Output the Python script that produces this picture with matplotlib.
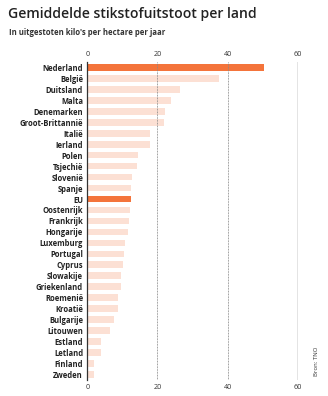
import matplotlib
matplotlib.use("Agg")
import matplotlib.pyplot as plt

countries = ["Nederland", "België", "Duitsland", "Malta", "Denemarken", "Groot-Brittannië",
             "Italië", "Ierland", "Polen", "Tsjechië", "Slovenië", "Spanje", "EU",
             "Oostenrijk", "Frankrijk", "Hongarije", "Luxemburg", "Portugal", "Cyprus",
             "Slowakije", "Griekenland", "Roemenië", "Kroatië", "Bulgarije", "Litouwen",
             "Estland", "Letland", "Finland", "Zweden"]
values = [50.5, 37.7, 26.4, 24.0, 22.3, 21.9, 18.0, 17.8, 14.4, 14.2, 12.8, 12.4, 12.4,
          12.2, 11.8, 11.7, 10.8, 10.4, 10.2, 9.7, 9.7, 8.7, 8.7, 7.5, 6.5, 3.9, 3.8, 2.0, 1.9]
highlight = ["Nederland", "EU"]
xticks = [0, 20, 40, 60]

title = "Gemiddelde stikstofuitstoot per land"
subtitle = "In uitgestoten kilo's per hectare per jaar"
source = "Bron: TNO"

plt.rcParams['font.family'] = ['Open Sans', 'DejaVu Sans']

fig = plt.figure(figsize=(3.28, 3.96), dpi=100)
ax = fig.add_axes([0.266, 0.04, 0.6416, 0.804])

orange = "#F4743B"
light = "#FCE0D4"
colors = [orange if c in highlight else light for c in countries]
ypos = list(range(len(countries)))
ax.barh(ypos, values, height=0.62, color=colors, zorder=2)

ax.set_xlim(0, 60)
ax.set_ylim(len(countries) - 0.5, -0.5)
ax.set_yticks(ypos)
ax.set_yticklabels(countries, fontsize=5.5, fontweight='bold', color='#222222')
ax.set_xticks(xticks)
ax.set_xticklabels([str(t) for t in xticks], fontsize=5.2, color='#333333')
ax.tick_params(axis='x', length=0, pad=3, top=True, labeltop=True, bottom=True, labelbottom=True)
ax.tick_params(axis='y', length=0, pad=3)

for s in ['top', 'right', 'bottom']:
    ax.spines[s].set_visible(False)
ax.spines['left'].set_color('#333333')
ax.spines['left'].set_linewidth(0.9)

for t in [20, 40]:
    ax.axvline(t, color='#888888', linewidth=0.7, linestyle=(0, (0.8, 0.8)), zorder=3)
ax.axvline(60, color='#777777', linewidth=1.0, zorder=1)

fig.text(0.025, 0.965, title, fontsize=10.1, fontweight='semibold', color='#222222', va='center', ha='left')
fig.text(0.027, 0.918, subtitle, fontsize=5.6, fontweight='bold', color='#333333', va='center', ha='left')
fig.text(0.965, 0.087, source, fontsize=4.3, color='#333333', rotation=90, va='center', ha='center')

fig.savefig("out.png", dpi=100, facecolor='white')
